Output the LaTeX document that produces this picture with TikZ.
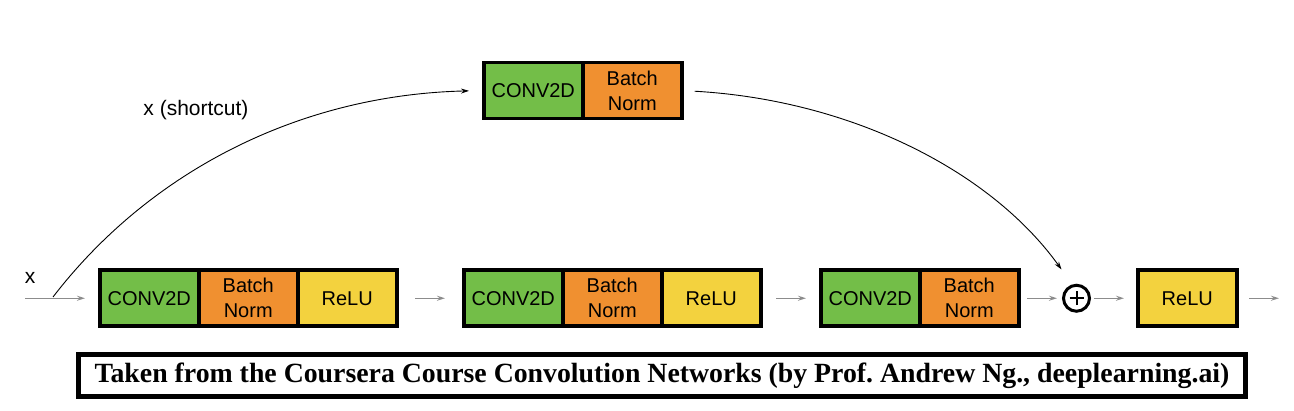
\documentclass[tikz,border=0pt]{standalone}
\usepackage{fontspec}
\setmainfont{Liberation Sans}
\newfontfamily\creditfont{Liberation Serif}
\usetikzlibrary{positioning,arrows.meta}
\definecolor{convgreen}{RGB}{115,190,72}
\definecolor{bnorange}{RGB}{240,144,48}
\definecolor{reluyellow}{RGB}{243,210,62}
\definecolor{flowgray}{RGB}{140,140,140}
\frenchspacing

\begin{document}
\begin{tikzpicture}[x=1pt,y=1pt,>={Stealth[length=8pt,width=5pt]},
    font=\fontsize{20}{25}\selectfont,
    layer/.style={draw,line width=3.5pt,minimum width=99pt,minimum height=56pt,
      inner sep=0pt,outer sep=0pt,align=center},
    conv/.style={layer,fill=convgreen},
    bn/.style={layer,fill=bnorange},
    relu/.style={layer,fill=reluyellow},
    flow/.style={->,draw=flowgray,line width=1.2pt},
    skip/.style={->,line width=0.9pt}]
    \useasboundingbox (0,0) rectangle (1294,411);
    \node[conv] (c1) at (149.25,112.75) {CONV2D};
    \node[bn,right=0pt of c1] (b1) {Batch\\Norm};
    \node[relu,right=0pt of b1] (r1) {ReLU};
    \node[conv] (c2) at (513.25,112.75) {CONV2D};
    \node[bn,right=0pt of c2] (b2) {Batch\\Norm};
    \node[relu,right=0pt of b2] (r2) {ReLU};
    \node[conv] (c3) at (870.25,112.75) {CONV2D};
    \node[bn,right=0pt of c3] (b3) {Batch\\Norm};
    \node[circle,draw,line width=3pt,minimum size=26pt,inner sep=0pt,outer sep=0pt] (sum) at (1076.5,112.75) {};
    \draw[line width=2pt] (sum.center) ++(-7,0) -- ++(14,0) (sum.center) ++(0,-7) -- ++(0,14);
    \node[relu] (r4) at (1187.25,112.75) {ReLU};
    \node[conv] (tc) at (533.25,320.5) {CONV2D};
    \node[bn,right=0pt of tc] (tb) {Batch\\Norm};
    \node[font=\fontsize{21}{25}\selectfont] (xin) at (30,133) {x};
    \node[font=\fontsize{21}{25}\selectfont] (xsc) at (196,301) {x (shortcut)};
    \coordinate (in) at (25,112.75);
    \coordinate (split) at (53,114);
    \coordinate (out) at (1279,112.75);
    \draw[flow,shorten >=14.75pt] (in) -- (c1.west);
    \draw[flow,shorten <=18.25pt,shorten >=18.75pt] (r1.east) -- (c2.west);
    \draw[flow,shorten <=15.25pt,shorten >=14.75pt] (r2.east) -- (c3.west);
    \draw[flow,shorten <=8.25pt,shorten >=6.5pt] (b3.east) -- (sum.west);
    \draw[flow,shorten <=4.5pt,shorten >=13.75pt] (sum.east) -- (r4.west);
    \draw[flow,shorten <=12.25pt] (r4.east) -- (out);
    \draw[skip,shorten >=14.75pt] (split) .. controls +(97,126) and +(-184,-4.5) .. (tc.west);
    \draw[skip,shorten <=13pt,shorten >=20pt] (tb.east) .. controls +(168,-9.5) and +(-83,115.7) .. (sum.105);
    \node[draw,line width=5pt,minimum width=1167pt,minimum height=42pt,inner sep=0pt,
      font=\creditfont\bfseries\fontsize{27.8}{30}\selectfont] (credit) at (662,35.5)
      {Taken from the Coursera Course Convolution Networks (by Prof. Andrew Ng., deeplearning.ai)};
\end{tikzpicture}
\end{document}
